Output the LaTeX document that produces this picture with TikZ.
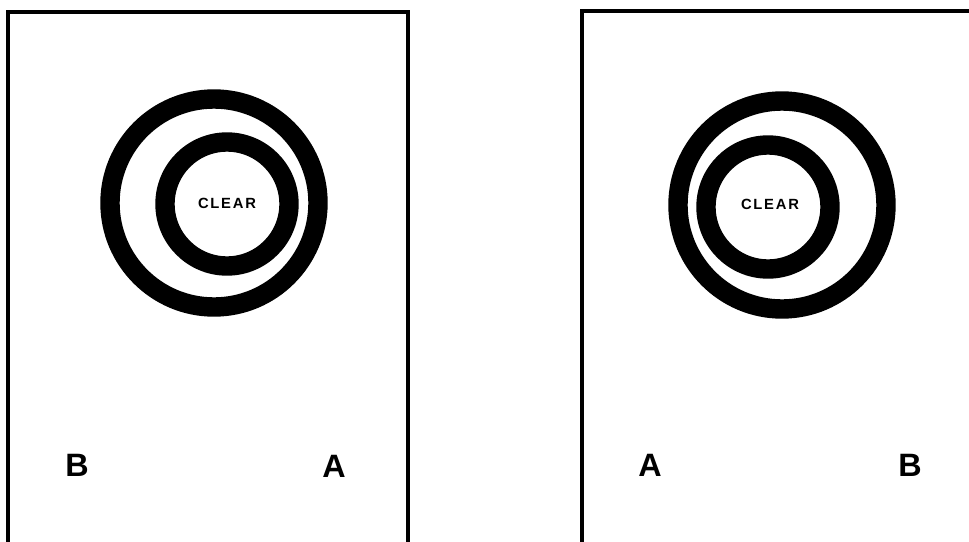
\documentclass[tikz,border=0pt]{standalone}
\usepackage{fontspec}
\setmainfont{Liberation Sans}
\newfontfamily\ringfont[LetterSpace=12]{Liberation Sans}

\begin{document}
\begin{tikzpicture}[x=0.025cm, y=-0.025cm]

        \useasboundingbox (0,0) rectangle (969,541);

        \tikzset{
            frame/.style={line width=2.2pt, line cap=rect},
            ring/.style={line width=13.8pt},
            ringlabel/.style={font=\ringfont\bfseries\fontsize{10.5}{11}\selectfont, inner sep=0pt},
            sidelabel/.style={font=\bfseries\fontsize{23}{25}\selectfont, inner sep=0pt}
        }

        %-- Left panel: frame open at the bottom --
        \draw[frame] (8,545) -- (8,12) -- (408,12) -- (408,545);

        %-- Right panel: frame runs off the right edge --
        \draw[frame] (582,545) -- (582,11) -- (975,11);

        %-- Left target: inner ring pushed to the right --
        \coordinate (LO) at (214,203);
        \coordinate (LI) at (227,204);
        \draw[ring] (LO) circle (104);
        \draw[ring] (LI) circle (62);
        \node[ringlabel] (clearL) at (227,203) {CLEAR};

        %-- Right target: inner ring pushed to the left --
        \coordinate (RO) at (782,205);
        \coordinate (RI) at (768,207);
        \draw[ring] (RO) circle (104);
        \draw[ring] (RI) circle (62);
        \node[ringlabel] (clearR) at (770,204) {CLEAR};

        %-- Side labels --
        \node[sidelabel] (bL) at (77,465) {B};
        \node[sidelabel] (aL) at (334,466) {A};
        \node[sidelabel] (aR) at (650,465) {A};
        \node[sidelabel] (bR) at (910,465) {B};

    \end{tikzpicture}
\end{document}
